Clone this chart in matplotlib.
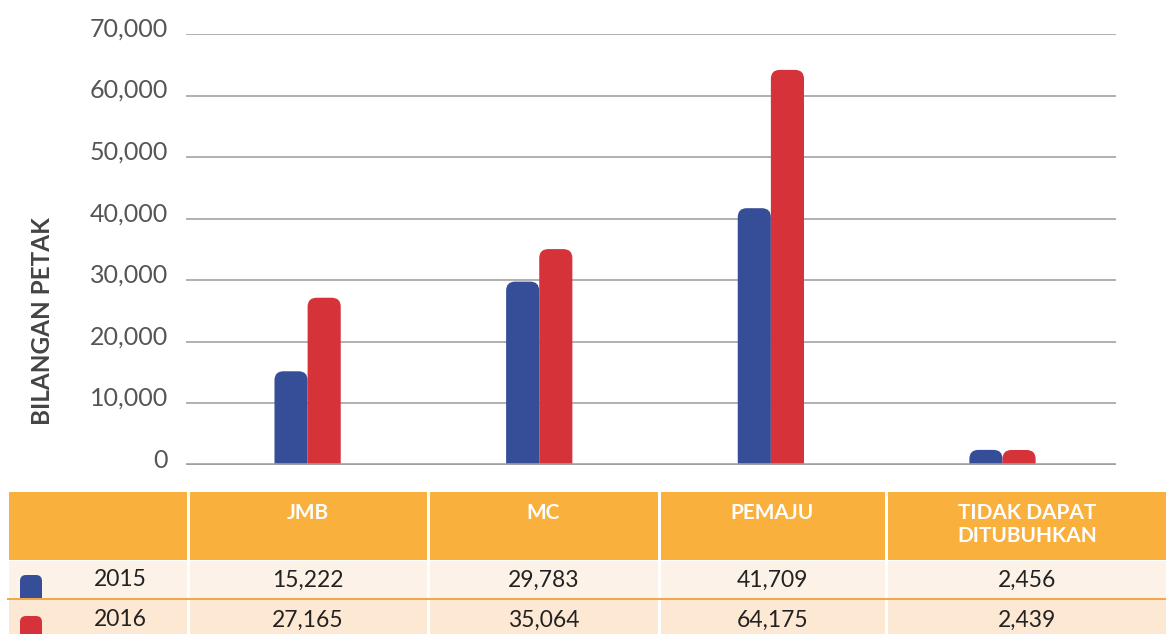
import matplotlib.pyplot as plt
import numpy as np
from matplotlib.patches import FancyBboxPatch, Rectangle
from matplotlib.transforms import ScaledTranslation

# data
categories = ['JMB', 'MC', 'PEMAJU', 'TIDAK DAPAT\nDITUBUHKAN']
years = ['2015', '2016']
vals_2015 = [15222, 29783, 41709, 2456]
vals_2016 = [27165, 35064, 64175, 2439]
yticks = [0, 10000, 20000, 30000, 40000, 50000, 60000, 70000]

blue = '#354E97'
red = '#D5323A'
orange = '#FAB03C'

plt.rcParams['font.family'] = ['Lato', 'DejaVu Sans']

W, H = 1166, 634
fig = plt.figure(figsize=(W / 100, H / 100), dpi=100)

# chart area
ax = fig.add_axes([186 / W, (H - 465) / H, (1116 - 186) / W, (465 - 34) / H])
ax.patch.set_alpha(0)
x = np.arange(len(categories))
bw = 0.143
ax.set_xlim(-0.525, 3.49)
ax.set_ylim(0, 70000)

# bars with rounded tops (bottom corners hidden below the axis)
px_x = 1 / 231.5
px_y = 70000 / 431
for vals, off, col in [(vals_2015, -bw, blue), (vals_2016, 0, red)]:
    for xi, v in zip(x, vals):
        p = FancyBboxPatch((xi + off, -3000), bw, v + 3000,
                           boxstyle='round,pad=0,rounding_size=%f' % (9 * px_x),
                           mutation_aspect=px_y / px_x,
                           fc=col, ec='none', zorder=3)
        ax.add_patch(p)

ax.set_yticks(yticks)
ax.set_yticklabels(['{:,}'.format(t) for t in yticks])
ax.set_xticks([])
ax.yaxis.grid(True, color='#AAAAAA', linewidth=1.3)
ax.set_axisbelow(True)
ax.axhline(0, color='#A0A0A0', linewidth=2.6, zorder=4)
for s in ax.spines.values():
    s.set_visible(False)
ax.tick_params(axis='y', length=0, pad=13, labelsize=18, labelcolor='#555555')
for lab in ax.get_yticklabels():
    lab.set_transform(lab.get_transform() + ScaledTranslation(0, 0.07, fig.dpi_scale_trans))

fig.text(42 / W, 1 - 321 / H, 'BILANGAN PETAK', rotation=90, ha='center', va='center',
         fontsize=17.5, fontweight='bold', color='#444444')

# table below the chart, drawn in pixel units
tax = fig.add_axes([0, 0, 1, 1], zorder=-1)
tax.set_xlim(0, W)
tax.set_ylim(H, 0)
tax.axis('off')

edges = [9, 188, 428, 659, 886, W + 2]
g = 1.5
# header
for i in range(len(edges) - 1):
    l = edges[i] + (g if i > 0 else 0)
    r = edges[i + 1] - g
    tax.add_patch(Rectangle((l, 492), r - l, 68, fc=orange, ec='none'))
for i, c in enumerate(categories):
    cx = (edges[i + 1] + edges[i + 2]) / 2
    tax.text(cx, 503, c, ha='center', va='top', color='white', fontsize=15,
             fontweight='bold', linespacing=1.2)

row_bg = ['#FDF2E7', '#FDE8D4']
row_top = [561, 600]
row_h = [37, 40]
row_y = [580, 620]

# row 1 background + swatch
for i in range(len(edges) - 1):
    l = edges[i] + (g if i > 0 else 0)
    r = edges[i + 1] - g
    tax.add_patch(Rectangle((l, row_top[0]), r - l, row_h[0], fc=row_bg[0], ec='none'))
tax.add_patch(FancyBboxPatch((20, 575), 22, 32, boxstyle='round,pad=0,rounding_size=6',
                             fc=blue, ec='none'))
# row 2 background
for i in range(len(edges) - 1):
    l = edges[i] + (g if i > 0 else 0)
    r = edges[i + 1] - g
    tax.add_patch(Rectangle((l, row_top[1]), r - l, row_h[1], fc=row_bg[1], ec='none', zorder=2))
tax.add_patch(Rectangle((7, 598), W, 2, fc='#F4A64A', ec='none', zorder=3))
tax.add_patch(FancyBboxPatch((20, 616), 22, 30, boxstyle='round,pad=0,rounding_size=6',
                             fc=red, ec='none', zorder=3))

for k, (yr, vals) in enumerate(zip(years, [vals_2015, vals_2016])):
    tax.text(120, row_y[k], yr, ha='center', va='center', fontsize=16.5,
             color='#222222', zorder=4)
    for i, v in enumerate(vals):
        cx = (edges[i + 1] + edges[i + 2]) / 2
        tax.text(cx, row_y[k], '{:,}'.format(v), ha='center', va='center', fontsize=16.5,
                 color='#222222', zorder=4)

fig.savefig('out.png', dpi=100)
